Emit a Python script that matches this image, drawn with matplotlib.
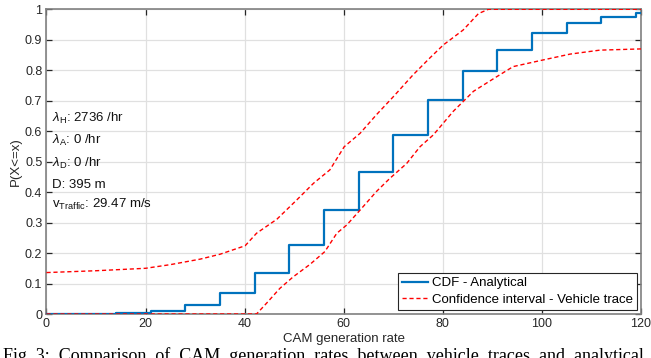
import matplotlib
matplotlib.use("Agg")
import matplotlib.pyplot as plt
import numpy as np

# ---- data ----
step_x = [0, 14, 21, 28, 35, 42, 49, 56, 63, 70, 77, 84, 91, 98, 105, 112, 119, 120]
step_y = [0, 0.003, 0.01, 0.03, 0.069, 0.135, 0.225, 0.340, 0.466, 0.589, 0.703,
          0.798, 0.868, 0.921, 0.955, 0.976, 0.987, 0.987]

upper_x = [0, 10, 20, 25, 31, 35, 40.1, 42.4, 46.5, 50.5, 53.9, 57.2, 60.1, 63.3,
           66.6, 70.0, 74.0, 77.3, 80.1, 84.1, 87.2, 89.2, 120]
upper_y = [0.136, 0.142, 0.150, 0.162, 0.180, 0.196, 0.224, 0.265, 0.311, 0.374,
           0.429, 0.473, 0.549, 0.593, 0.654, 0.713, 0.785, 0.839, 0.883, 0.932,
           0.986, 1.0, 1.0]

lower_x = [0, 42.4, 44.4, 47.1, 49.8, 53.2, 56.2, 58.6, 60.6, 63.3, 66.6, 69.3,
           72.7, 75.4, 78.1, 82.1, 86.2, 90.9, 94.2, 100.3, 105.7, 111.7, 120]
lower_y = [0, 0, 0.035, 0.084, 0.122, 0.163, 0.205, 0.265, 0.292, 0.341, 0.402,
           0.445, 0.494, 0.549, 0.588, 0.665, 0.731, 0.779, 0.812, 0.834, 0.853,
           0.866, 0.870]

x_ticks = [0, 20, 40, 60, 80, 100, 120]
y_ticks = [0, 0.1, 0.2, 0.3, 0.4, 0.5, 0.6, 0.7, 0.8, 0.9, 1]
y_ticklabels = ["0", "0.1", "0.2", "0.3", "0.4", "0.5", "0.6", "0.7", "0.8", "0.9", "1"]

info_lines = [r"$\lambda_{\mathrm{H}}$: 2736 /hr",
              r"$\lambda_{\mathrm{A}}$: 0 /hr",
              r"$\lambda_{\mathrm{D}}$: 0 /hr",
              "D: 395 m",
              r"v$_{\mathrm{Traffic}}$: 29.47 m/s"]

caption = "Fig. 3:  Comparison  of  CAM  generation  rates  between  vehicle  traces  and  analytical"

plt.rcParams['font.family'] = ['Liberation Sans', 'DejaVu Sans']
plt.rcParams['mathtext.fontset'] = 'custom'
plt.rcParams['mathtext.rm'] = 'Liberation Sans'
plt.rcParams['mathtext.it'] = 'Liberation Sans:italic'

fig = plt.figure(figsize=(6.51, 3.58), dpi=100)
ax = fig.add_axes([0.0714, 0.1229, 0.9132, 0.8511])

ax.step(step_x, step_y, where='post', color='#0072BD', lw=1.6,
        label='CDF - Analytical', zorder=3)
ax.plot(upper_x, upper_y, color='#FF0000', lw=1.0, ls=(0, (3, 2)),
        label='Confidence interval - Vehicle trace', zorder=4)
ax.plot(lower_x, lower_y, color='#FF0000', lw=1.0, ls=(0, (3, 2)), zorder=4)

ax.set_xlim(0, 120)
ax.set_ylim(0, 1)
ax.set_xticks(x_ticks)
ax.set_yticks(y_ticks)
ax.set_yticklabels(y_ticklabels)
ax.grid(True, color='#E0E0E0', lw=0.9)
ax.set_axisbelow(True)
ax.tick_params(direction='in', top=True, right=True, length=4, width=0.9,
               labelsize=9, colors='#262626', pad=3)
for s in ax.spines.values():
    s.set_color('#808080')
    s.set_linewidth(1.2)

ax.set_xlabel("CAM generation rate", fontsize=9.5, color='#262626', labelpad=2)
ax.set_ylabel("P(X<=x)", fontsize=9.5, color='#262626', labelpad=2)

ys_px = [118, 140.5, 163, 185, 204]
for t, yp in zip(info_lines, ys_px):
    fig.text(52 / 651, 1 - yp / 358, t, fontsize=9.5, color='#111111',
             va='center', ha='left')

leg = ax.legend(loc='lower right', fontsize=9.5, frameon=True, fancybox=False,
                edgecolor='#262626', framealpha=1, handlelength=2.0,
                handletextpad=0.3, borderpad=0.3, labelspacing=0.35,
                borderaxespad=0.3)
leg.get_frame().set_linewidth(0.8)

fig.text(0.004, 1 - 347 / 358, caption, fontsize=13, family='Liberation Serif',
         va='top', ha='left', color='black')

fig.savefig("out.png", dpi=100)
